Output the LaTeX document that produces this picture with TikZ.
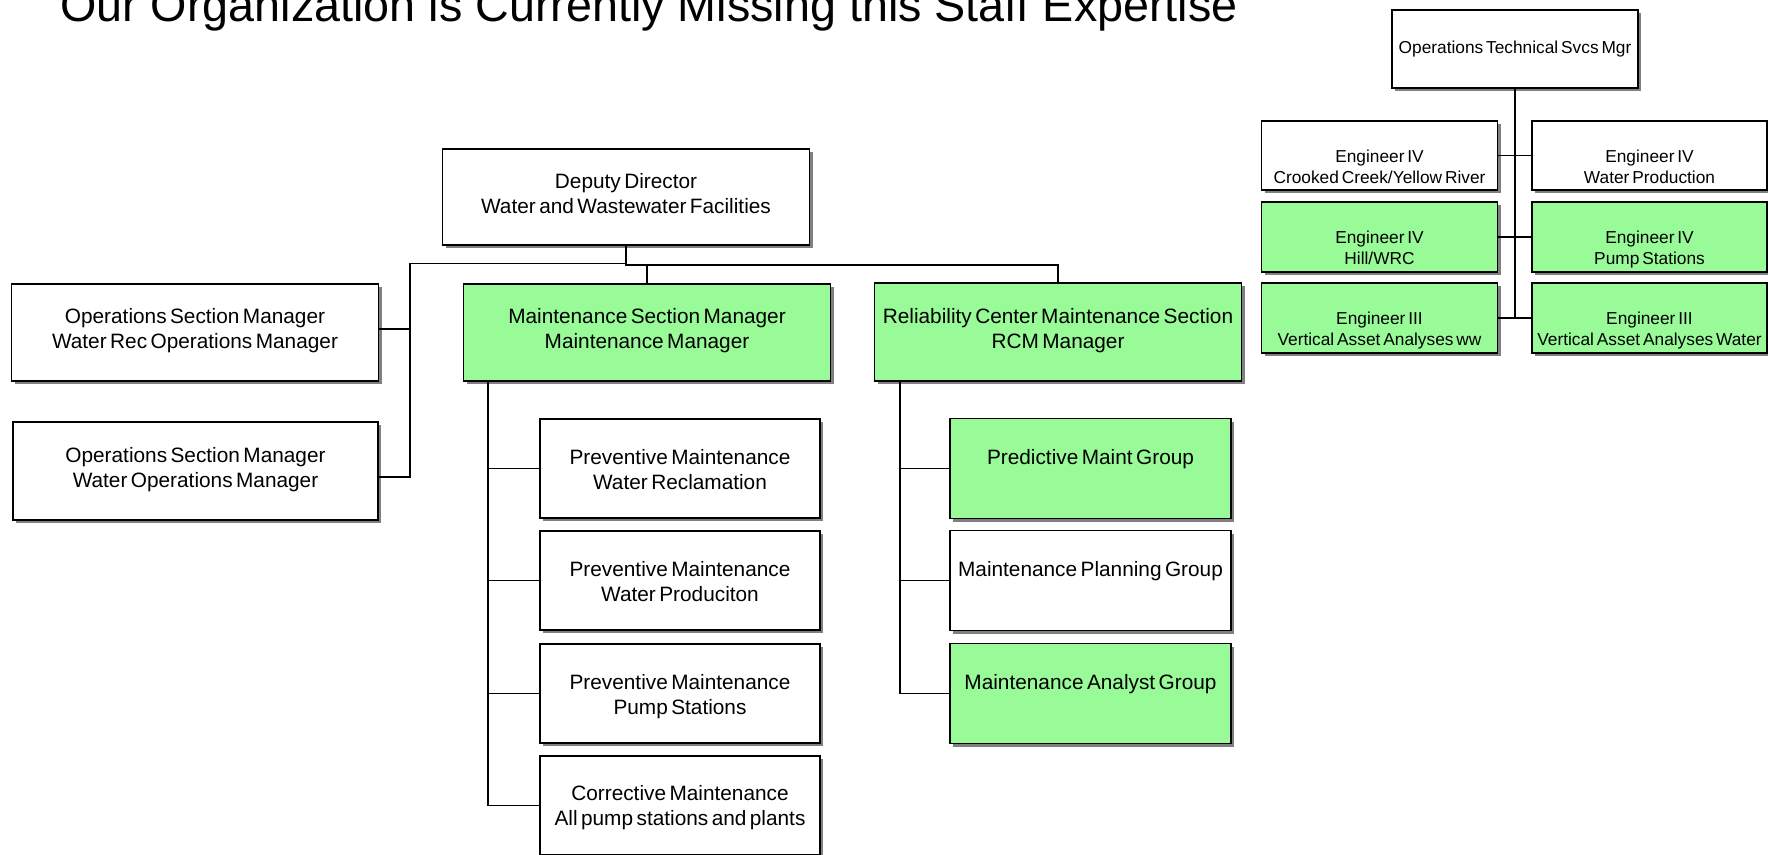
\documentclass[tikz,border=0pt]{standalone}
\usepackage{fontspec}
\setmainfont{Liberation Sans}
\newfontfamily\boxfont[WordSpace=0.6]{Liberation Sans}
\usetikzlibrary{shadows,calc}
\definecolor{paleGreen}{HTML}{98FB98}
\definecolor{shadowGray}{HTML}{808080}
\begin{document}
\begin{tikzpicture}[x=1pt,y=-1pt,
  box/.style={draw=black,line width=1.3pt,fill=white,inner sep=0pt,align=center,
    drop shadow={shadow xshift=3pt,shadow yshift=-3pt,fill=shadowGray,opacity=1},
    execute at begin node=\strut,execute at end node=\strut},
  big/.style={box,font=\boxfont\fontsize{20.8}{25}\selectfont},
  small/.style={box,font=\boxfont\fontsize{17.3}{21}\selectfont},
  bigtext/.style={inner sep=0pt,align=center,font=\boxfont\fontsize{20.8}{25}\selectfont,
    execute at begin node=\strut,execute at end node=\strut},
  smalltext/.style={inner sep=0pt,align=center,font=\boxfont\fontsize{17.3}{21}\selectfont,
    execute at begin node=\strut,execute at end node=\strut},
  green/.style={fill=paleGreen},
  conn/.style={line width=1.3pt,draw=black},
  mgr/.style={big,minimum width=367pt,minimum height=97pt},
  unit/.style={big,minimum width=280pt,minimum height=99pt},
  eng/.style={small,minimum width=236pt,minimum height=70pt}
]
\useasboundingbox (0,0) rectangle (1768,854);

% heading
\node[anchor=base west,inner sep=0pt,font=\fontsize{46.7}{52}\selectfont] (title) at (60,21)
  {Our Organization is Currently Missing this Staff Expertise};

% main chart
\node[mgr,minimum height=96pt] (deputy) at (626,197) {Deputy Director\\Water and Wastewater Facilities};
\node[mgr] (opsrec) at (195,332.5) {Operations Section Manager\\Water Rec Operations Manager};
\node[mgr,minimum width=365pt,minimum height=98pt] (opswat) at (195.5,471) {Operations Section Manager\\Water Operations Manager};
\node[mgr,green] (maint) at (647,332.5) {Maintenance Section Manager\\Maintenance Manager};
\node[mgr,green,minimum height=98pt] (rcm) at (1058,332) {Reliability Center Maintenance Section\\RCM Manager};

% unit boxes; their labels sit a little below the middle
\node[unit] (pmrec) at (680,468.5) {};
\node[unit] (pmprod) at (680,580.5) {};
\node[unit] (pmpump) at (680,693.5) {};
\node[unit] (cmall) at (680,805.5) {};
\node[unit,green,minimum width=281pt,minimum height=100pt] (pdg) at (1090.5,468.5) {};
\node[unit,minimum width=281pt,minimum height=100pt] (mpg) at (1090.5,580.5) {};
\node[unit,green,minimum width=281pt,minimum height=100pt] (mag) at (1090.5,693.5) {};
\node[bigtext] (pmrect) at ($(pmrec.center)+(0,5)$) {Preventive Maintenance\\Water Reclamation};
\node[bigtext] (pmprodt) at ($(pmprod.center)+(0,5)$) {Preventive Maintenance\\Water Produciton};
\node[bigtext] (pmpumpt) at ($(pmpump.center)+(0,5)$) {Preventive Maintenance\\Pump Stations};
\node[bigtext] (cmallt) at ($(cmall.center)+(0,4)$) {Corrective Maintenance\\All pump stations and plants};
\node[bigtext] (pdgt) at ($(pdg.center)+(0,5)$) {Predictive Maint Group\\~};
\node[bigtext] (mpgt) at ($(mpg.center)+(0,5)$) {Maintenance Planning Group\\~};
\node[bigtext] (magt) at ($(mag.center)+(0,5)$) {Maintenance Analyst Group\\~};

% technical services chart
\node[small,minimum width=246pt,minimum height=78pt] (ots) at (1515,49) {Operations Technical Svcs Mgr};
\node[eng,minimum height=69pt] (e1) at (1379.5,155.5) {};
\node[eng,minimum height=69pt,minimum width=235pt] (e2) at (1649.5,155.5) {};
\node[eng,green] (e3) at (1379.5,237) {};
\node[eng,green,minimum width=235pt] (e4) at (1649.5,237) {};
\node[eng,green] (e5) at (1379.5,318) {};
\node[eng,green,minimum width=235pt] (e6) at (1649.5,318) {};
\node[smalltext] (e1t) at ($(e1.center)+(0,14)$) {Engineer IV\\Crooked Creek/Yellow River};
\node[smalltext] (e2t) at ($(e2.center)+(0,14)$) {Engineer IV\\Water Production};
\node[smalltext] (e3t) at ($(e3.center)+(0,14)$) {Engineer IV\\Hill/WRC};
\node[smalltext] (e4t) at ($(e4.center)+(0,14)$) {Engineer IV\\Pump Stations};
\node[smalltext] (e5t) at ($(e5.center)+(0,14)$) {Engineer III\\Vertical Asset Analyses ww};
\node[smalltext] (e6t) at ($(e6.center)+(0,14)$) {Engineer III\\Vertical Asset Analyses Water};

% connectors: deputy director to section managers
\coordinate (lbus) at (410,263.5);
\coordinate (rbus) at (626,265);
\coordinate (orstub) at ($(opsrec.east)+(0,-3.5)$);
\coordinate (owstub) at ($(opswat.east)+(0,6)$);
\draw[conn] (deputy.south) |- (lbus) |- (owstub);
\draw[conn] (orstub) -- (orstub -| lbus);
\draw[conn] (deputy.south) -- (rbus) -| (rcm.north);
\draw[conn] (maint.north) -- (maint.north |- rbus);

% maintenance section units
\coordinate (mtop) at ($(maint.south west)+(25,0)$);
\draw[conn] (mtop) |- (cmall.west);
\draw[conn] (mtop |- pmrec.west) -- (pmrec.west);
\draw[conn] (mtop |- pmprod.west) -- (pmprod.west);
\draw[conn] (mtop |- pmpump.west) -- (pmpump.west);

% reliability section groups
\coordinate (rtop) at ($(rcm.south west)+(26,0)$);
\draw[conn] (rtop) |- (mag.west);
\draw[conn] (rtop |- pdg.west) -- (pdg.west);
\draw[conn] (rtop |- mpg.west) -- (mpg.west);

% technical services engineers
\draw[conn] (ots.south) -- (ots.south |- e5.east);
\draw[conn] (e1.east) -- (e2.west);
\draw[conn] (e3.east) -- (e4.west);
\draw[conn] (e5.east) -- (e6.west);
\end{tikzpicture}
\end{document}
